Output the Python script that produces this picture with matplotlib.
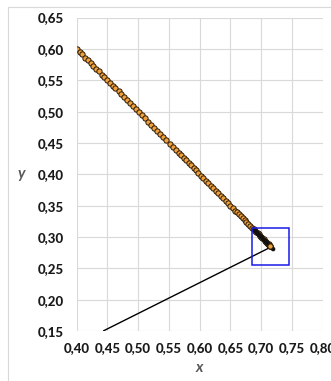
import matplotlib
matplotlib.use("Agg")
import matplotlib.pyplot as plt
from matplotlib.patches import Rectangle

# Iterates (x, y) of the sequence
x_iter = [0.400, 0.405, 0.409, 0.414, 0.418, 0.423, 0.427, 0.432, 0.436, 0.441,
          0.445, 0.450, 0.454, 0.459, 0.463, 0.468, 0.472, 0.477,
          0.481, 0.486, 0.491, 0.496, 0.501, 0.506, 0.511, 0.516, 0.521, 0.526,
          0.531, 0.536, 0.541, 0.546, 0.551, 0.556, 0.561, 0.566,
          0.570, 0.574, 0.578, 0.582, 0.586, 0.590, 0.594, 0.598, 0.602, 0.606,
          0.610, 0.614, 0.618, 0.622, 0.626, 0.630, 0.634, 0.638, 0.642, 0.646,
          0.650, 0.654, 0.658,
          0.661, 0.664, 0.667, 0.670, 0.673, 0.676, 0.679, 0.682, 0.685, 0.688,
          0.690, 0.692, 0.694, 0.696, 0.698, 0.700, 0.702, 0.704, 0.706, 0.708,
          0.710, 0.711, 0.712, 0.713, 0.714, 0.715]
y_iter = [0.600, 0.595, 0.591, 0.586, 0.582, 0.577, 0.573, 0.568, 0.564, 0.559,
          0.555, 0.550, 0.546, 0.541, 0.537, 0.532, 0.528, 0.523,
          0.519, 0.514, 0.509, 0.504, 0.499, 0.494, 0.489, 0.484, 0.479, 0.474,
          0.469, 0.464, 0.459, 0.454, 0.449, 0.444, 0.439, 0.434,
          0.430, 0.426, 0.422, 0.418, 0.414, 0.410, 0.406, 0.402, 0.398, 0.394,
          0.390, 0.386, 0.382, 0.378, 0.374, 0.370, 0.366, 0.362, 0.358, 0.354,
          0.350, 0.346, 0.342,
          0.339, 0.336, 0.333, 0.330, 0.327, 0.324, 0.321, 0.318, 0.315, 0.312,
          0.310, 0.308, 0.306, 0.304, 0.302, 0.300, 0.298, 0.296, 0.294, 0.292,
          0.290, 0.289, 0.288, 0.287, 0.286, 0.285]

# Tail of the sequence, packed close to the limit
x_tail = [0.6880, 0.6900, 0.6920, 0.6940, 0.6960, 0.6980, 0.7000, 0.7020,
          0.7040, 0.7060, 0.7080, 0.7100, 0.7120, 0.7140, 0.7160, 0.7180, 0.7195]
y_tail = [0.3120, 0.3100, 0.3080, 0.3060, 0.3040, 0.3020, 0.3000, 0.2980,
          0.2960, 0.2940, 0.2920, 0.2900, 0.2880, 0.2860, 0.2840, 0.2820, 0.2805]

# Straight segment towards the limit
x_segment = [0.443, 0.716]
y_segment = [0.150, 0.284]

# Zoom window around the limit
box_x = [0.685, 0.745]
box_y = [0.255, 0.315]

x_ticks = [0.40, 0.45, 0.50, 0.55, 0.60, 0.65, 0.70, 0.75, 0.80]
x_tick_labels = ["0,40", "0,45", "0,50", "0,55", "0,60", "0,65", "0,70", "0,75", "0,80"]
y_ticks = [0.15, 0.20, 0.25, 0.30, 0.35, 0.40, 0.45, 0.50, 0.55, 0.60, 0.65]
y_tick_labels = ["0,15", "0,20", "0,25", "0,30", "0,35", "0,40", "0,45", "0,50", "0,55", "0,60", "0,65"]

plt.rcParams["font.family"] = ["Lato", "DejaVu Sans"]

fig = plt.figure(figsize=(3.31, 3.81), dpi=100)
fig.patch.set_facecolor("white")

# Chart-area frame
fig.add_artist(Rectangle((8 / 331, -0.05), 1.1, 1 - 7 / 381 + 0.05,
                         transform=fig.transFigure, fill=False,
                         edgecolor="#d9d9d9", linewidth=0.8))

ax = fig.add_axes([76.7 / 331, 50 / 381, 246 / 331, 313.5 / 381])
ax.set_xlim(0.40, 0.80)
ax.set_ylim(0.15, 0.65)
ax.set_xticks(x_ticks)
ax.set_xticklabels(x_tick_labels)
ax.set_yticks(y_ticks)
ax.set_yticklabels(y_tick_labels)
ax.grid(True, color="#d9d9d9", linewidth=0.8)
ax.set_axisbelow(True)
for s in ax.spines.values():
    s.set_visible(False)
ax.tick_params(length=0, labelsize=9.5)
ax.tick_params(axis="y", pad=9)
ax.tick_params(axis="x", pad=8)
for lab in ax.get_xticklabels() + ax.get_yticklabels():
    lab.set_fontweight(900)
    lab.set_color("#1a1a1a")

ax.plot(x_segment, y_segment, color="black", linewidth=1.0, zorder=3,
        solid_capstyle="butt")

marker_style = dict(linestyle="none", marker="o", markersize=3.8,
                    markerfacecolor="#f0a03a", markeredgecolor="#2a1a08",
                    markeredgewidth=0.7)
ax.plot(x_iter, y_iter, zorder=4, **marker_style)
ax.plot(x_tail, y_tail, linestyle="-", color="#111111", linewidth=3.2,
        solid_capstyle="round", zorder=4)
ax.plot([x_iter[-1]], [y_iter[-1]], zorder=5, **marker_style)

ax.add_patch(Rectangle((box_x[0], box_y[0]), box_x[1] - box_x[0], box_y[1] - box_y[0],
                       fill=False, edgecolor="#1a1ae6", linewidth=1.1, zorder=6))

ax.set_xlabel("x", fontsize=11, fontstyle="italic", fontweight="bold",
              color="#595959", labelpad=5)
ax.set_ylabel("y", fontsize=11, fontstyle="italic", fontweight="bold",
              color="#595959", rotation=0, labelpad=12, va="center")

fig.savefig("out.png", dpi=100)
